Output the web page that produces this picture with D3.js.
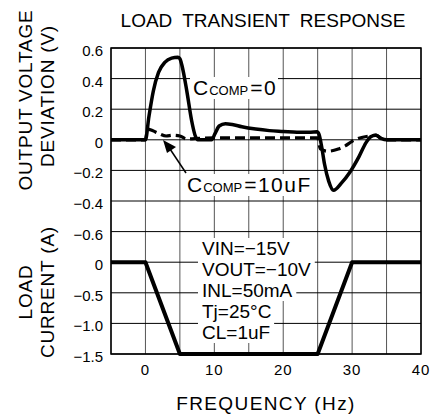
<!DOCTYPE html>
<html>
<head>
	<title></title>
	<style>
		body { margin: 0; background: #fff; }
		text { font-family: "Liberation Sans", Arial, sans-serif; fill: #000; }
	</style>
</head>
<body>

<svg id="chart" width="433" height="418"></svg>

<script src="https://d3js.org/d3.v7.min.js"></script>
<script>
	// ticks
	const freqTicks = [0, 10, 20, 30, 40]
	const voltTicks = [0.6, 0.4, 0.2, 0, -0.2, -0.4, -0.6]
	const currTicks = [0, -0.5, -1.0, -1.5]
	const voltLabels = ['0.6', '0.4', '0.2', '0', '\u22120.2', '\u22120.4', '\u22120.6']
	const currLabels = ['0', '\u22120.5', '\u22121.0', '\u22121.5']

	// CCOMP = 0 (solid)
	const compZeroT = [-5, 0, 0.5, 1.15, 1.9, 2.85, 3.8, 4.7, 5, 5.3, 6, 6.7, 7.2, 7.6, 9.6, 10.1, 10.7, 11.6, 12.6, 14, 16, 18, 20, 22, 24, 24.9, 25.2, 25.6, 26, 26.6, 27.3, 28.5, 29.7, 31, 32, 32.7, 33.4, 34.2, 35, 40]
	const compZeroV = [0, 0, 0.15, 0.32, 0.44, 0.508, 0.534, 0.54, 0.53, 0.486, 0.32, 0.126, 0.03, 0, 0, 0.04, 0.09, 0.105, 0.1, 0.085, 0.07, 0.06, 0.055, 0.05, 0.05, 0.052, 0.035, -0.05, -0.16, -0.27, -0.33, -0.28, -0.21, -0.11, -0.02, 0.02, 0.03, 0.01, 0, 0]

	// CCOMP = 10uF (dashed)
	const compTenT = [-5, 0, 0.3, 1, 2, 3, 4, 5, 6, 8, 10, 15, 20, 25, 25.4, 26.5, 28, 29, 30, 31, 32.5, 33.5, 34.5, 40]
	const compTenV = [0, 0, 0.07, 0.06, 0.04, 0.025, 0.03, 0.025, 0.005, 0.01, 0.012, 0.012, 0.012, 0.012, -0.06, -0.075, -0.06, -0.04, -0.01, 0.01, 0.025, 0.03, 0, 0]

	// load current
	const loadT = [-5, 0, 5, 25, 30, 40]
	const loadI = [0, 0, -1.5, -1.5, 0, 0]

	// conditions box
	const notes = ['VIN=\u221215V', 'VOUT=\u221210V', 'INL=50mA', 'Tj=25\u00b0C', 'CL=1uF']

	const pLeft = 111, pRight = 421, pTop = 48, pBottom = 354
	const rowH = (pBottom - pTop) / 10

	const x = d3.scaleLinear().domain([-5, 40]).range([pLeft, pRight])
	const yV = d3.scaleLinear().domain([-0.6, 0.6]).range([pTop + 6 * rowH, pTop])
	const yI = d3.scaleLinear().domain([-1.5, 0]).range([pBottom, pTop + 7 * rowH])

	const svg = d3.select('#chart')

	// grid
	const grid = svg.append('g')
	grid.selectAll('line.v')
		.data(d3.range(-5, 41, 5))
		.enter()
		.append('line')
		.attr('x1', d => x(d)).attr('x2', d => x(d))
		.attr('y1', pTop).attr('y2', pBottom)
		.attr('stroke', '#555').attr('stroke-width', 1)
	grid.selectAll('line.h')
		.data(d3.range(0, 11))
		.enter()
		.append('line')
		.attr('x1', pLeft).attr('x2', pRight)
		.attr('y1', i => pTop + i * rowH).attr('y2', i => pTop + i * rowH)
		.attr('stroke', '#000').attr('stroke-width', 1)
	svg.append('rect')
		.attr('x', pLeft).attr('y', pTop)
		.attr('width', pRight - pLeft).attr('height', pBottom - pTop)
		.attr('fill', 'none').attr('stroke', '#000').attr('stroke-width', 1.5)

	// tick labels
	svg.selectAll('text.vt')
		.data(voltTicks)
		.enter()
		.append('text')
		.attr('x', 103).attr('y', d => yV(d) + 8)
		.attr('text-anchor', 'end')
		.style('font-size', '15px')
		.text((d, i) => voltLabels[i])
	svg.selectAll('text.it')
		.data(currTicks)
		.enter()
		.append('text')
		.attr('x', 103).attr('y', d => yI(d) + 8)
		.attr('text-anchor', 'end')
		.style('font-size', '15px')
		.text((d, i) => currLabels[i])
	svg.selectAll('text.xt')
		.data(freqTicks)
		.enter()
		.append('text')
		.attr('x', d => x(d)).attr('y', 375)
		.attr('text-anchor', 'middle')
		.style('font-size', '15px').style('letter-spacing', '1px')
		.text(d => d)

	// titles
	svg.append('text')
		.attr('x', 263).attr('y', 27)
		.attr('text-anchor', 'middle')
		.style('font-size', '19px').style('word-spacing', '5px')
		.text('LOAD TRANSIENT RESPONSE')
	svg.append('text')
		.attr('x', 266).attr('y', 410)
		.attr('text-anchor', 'middle')
		.style('font-size', '19px').style('letter-spacing', '1.4px')
		.text('FREQUENCY (Hz)')

	const yLabel = (txt, bx, cy) => svg.append('text')
		.attr('transform', `translate(${bx},${cy}) rotate(-90)`)
		.attr('text-anchor', 'middle')
		.style('font-size', '19px').style('letter-spacing', '0.8px')
		.text(txt)
	yLabel('OUTPUT VOLTAGE', 32, 100)
	yLabel('DEVIATION (V)', 54, 96)
	yLabel('LOAD', 32, 292)
	yLabel('CURRENT (A)', 54, 292)

	// curves
	const lineV = (ts, vs) => d3.line()
		.x(i => x(ts[i]))
		.y(i => yV(vs[i]))
		.curve(d3.curveMonotoneX)(d3.range(ts.length))

	svg.append('path')
		.attr('d', lineV(compTenT, compTenV))
		.attr('fill', 'none').attr('stroke', '#000')
		.attr('stroke-width', 3.2).attr('stroke-dasharray', '10,5')
	svg.append('path')
		.attr('d', lineV(compZeroT, compZeroV))
		.attr('fill', 'none').attr('stroke', '#000')
		.attr('stroke-width', 3.5).attr('stroke-linejoin', 'round')

	svg.append('path')
		.attr('d', d3.line().x(i => x(loadT[i])).y(i => yI(loadI[i]))(d3.range(loadT.length)))
		.attr('fill', 'none').attr('stroke', '#000')
		.attr('stroke-width', 4).attr('stroke-linejoin', 'round')

	// annotations with white backing
	const compLabel = (sx, by, tail, w) => {
		svg.append('rect')
			.attr('x', sx - 3).attr('y', by - 18)
			.attr('width', w).attr('height', 22)
			.attr('fill', '#fff')
		const t = svg.append('text').attr('x', sx).attr('y', by).style('font-size', '21px')
		t.append('tspan').text('C')
		t.append('tspan').style('font-size', '13px').attr('dx', 1).text('COMP')
		t.append('tspan').attr('dx', 2).style('letter-spacing', '1.5px').text(tail)
	}
	compLabel(193, 95, '=0', 88)
	compLabel(187, 192, '=10uF', 126)

	// arrow to dashed curve
	svg.append('line')
		.attr('x1', 186).attr('y1', 173)
		.attr('x2', 170).attr('y2', 149)
		.attr('stroke', '#000').attr('stroke-width', 1.5)
	svg.append('path')
		.attr('d', 'M163,140 L176,147 L167,153 Z')
		.attr('fill', '#000')

	const noteG = svg.append('g')
	notes.forEach((n, i) => {
		const by = 255 + i * 21
		const t = noteG.append('text')
			.attr('x', 202).attr('y', by)
			.style('font-size', '19px')
			.text(n)
		const w = t.node().getComputedTextLength()
		noteG.insert('rect', 'text')
			.attr('x', 198).attr('y', by - 17)
			.attr('width', w + 8).attr('height', 21)
			.attr('fill', '#fff')
	})
</script>
</body>
</html>
